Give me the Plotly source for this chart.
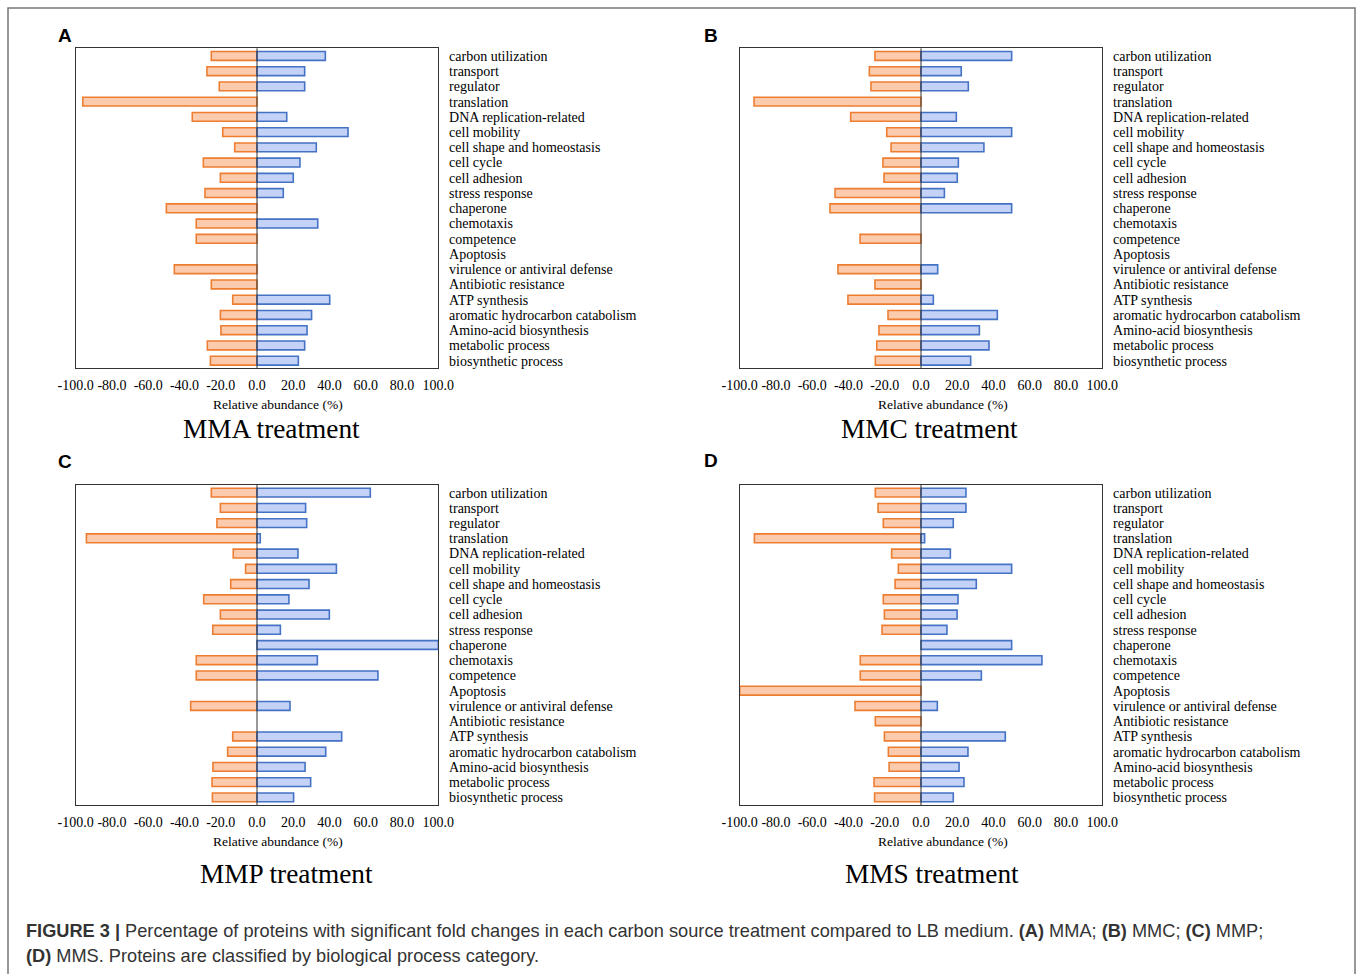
import plotly.graph_objects as go

# ---------------- data ----------------
categories = ["carbon utilization", "transport", "regulator", "translation",
              "DNA replication-related", "cell mobility", "cell shape and homeostasis",
              "cell cycle", "cell adhesion", "stress response", "chaperone", "chemotaxis",
              "competence", "Apoptosis", "virulence or antiviral defense",
              "Antibiotic resistance", "ATP synthesis", "aromatic hydrocarbon catabolism",
              "Amino-acid biosynthesis", "metabolic process", "biosynthetic process"]

mma_down = [-25.2, -27.6, -20.8, -96.1, -35.7, -18.9, -12.3, -29.6, -20.2, -28.7, -50.0,
            -33.5, -33.5, None, -45.6, -25.2, -13.4, -20.2, -19.9, -27.4, -25.7]
mma_up = [37.7, 26.3, 26.3, None, 16.4, 50.2, 32.7, 23.7, 20.0, 14.5, None,
          33.5, None, None, None, None, 40.1, 30.1, 27.6, 26.3, 22.8]

mmc_down = [-25.4, -28.5, -27.6, -92.1, -38.8, -18.9, -16.5, -21.0, -20.4, -47.4, -50.2,
            None, -33.6, None, -45.8, -25.4, -40.3, -18.2, -23.2, -24.4, -25.2]
mmc_up = [50.0, 22.2, 26.1, None, 19.5, 50.0, 34.7, 20.6, 20.0, 12.9, 50.0,
          None, None, None, 9.2, None, 6.8, 42.1, 32.2, 37.5, 27.4]

mmp_down = [-25.2, -20.2, -22.1, -94.1, -13.1, -6.3, -14.5, -29.4, -20.2, -24.4, None,
            -33.5, -33.5, None, -36.6, None, -13.4, -16.2, -24.3, -24.8, -24.6]
mmp_up = [62.5, 26.8, 27.4, 1.8, 22.6, 43.8, 28.7, 17.6, 39.9, 12.9, 100.0,
          33.3, 66.7, None, 18.2, None, 46.7, 37.9, 26.5, 29.6, 20.2]

mms_down = [-25.2, -23.7, -20.8, -91.9, -16.2, -12.5, -14.3, -20.8, -20.2, -21.5, None,
            -33.5, -33.5, -100.0, -36.4, -25.2, -20.2, -18.0, -17.6, -25.9, -25.6]
mms_up = [24.8, 24.8, 17.8, 2.0, 16.2, 50.0, 30.5, 20.4, 19.9, 14.3, 50.0,
          66.7, 33.3, None, 9.0, None, 46.5, 25.9, 21.0, 23.7, 17.8]

tick_vals = [-100, -80, -60, -40, -20, 0, 20, 40, 60, 80, 100]
tick_text = ["-100.0", "-80.0", "-60.0", "-40.0", "-20.0", "0.0",
             "20.0", "40.0", "60.0", "80.0", "100.0"]

panel_letters = ["A", "B", "C", "D"]
panel_titles = ["MMA treatment", "MMC treatment", "MMP treatment", "MMS treatment"]
axis_title = "Relative abundance (%)"

# ---------------- layout helpers ----------------
W, H = 1357, 974
SERIF = "Liberation Serif, Times New Roman, serif"
SANS = "Liberation Sans, Arial, sans-serif"

def fx(x):
    return x / W

def fy(y):
    return 1 - y / H

panels = [
    dict(x0=75.7, x1=438.3, y0=48.3, y1=368.3, down=mma_down, up=mma_up,
         letter=(55.7, 35), title=(271, 429), atitle=(278, 404)),
    dict(x0=739.7, x1=1102.3, y0=48.3, y1=368.3, down=mmc_down, up=mmc_up,
         letter=(701.7, 35), title=(929.5, 429), atitle=(943, 404)),
    dict(x0=75.7, x1=438.3, y0=485, y1=805, down=mmp_down, up=mmp_up,
         letter=(55.7, 461), title=(286.6, 873.5), atitle=(278, 841)),
    dict(x0=739.7, x1=1102.3, y0=485, y1=805, down=mms_down, up=mms_up,
         letter=(701.7, 460.5), title=(931.7, 873.5), atitle=(943, 841)),
]

ORANGE_FILL = "#FCCBAD"
ORANGE_LINE = "#ED7D31"
BLUE_FILL = "#C3D2F6"
BLUE_LINE = "#4472C4"

fig = go.Figure()
layout = dict(
    width=W, height=H,
    margin=dict(l=0, r=0, t=0, b=0, pad=0, autoexpand=False),
    paper_bgcolor="white", plot_bgcolor="white",
    showlegend=False, barmode="relative", bargap=0.42,
    font=dict(family=SERIF, color="black"),
)
annotations = []
shapes = []

for i, p in enumerate(panels):
    n = "" if i == 0 else str(i + 1)
    xa, ya = "x" + n, "y" + n
    fig.add_trace(go.Bar(
        y=categories, x=p["down"], orientation="h", xaxis=xa, yaxis=ya,
        marker=dict(color=ORANGE_FILL, line=dict(color=ORANGE_LINE, width=1.6)),
        hoverinfo="x+y"))
    fig.add_trace(go.Bar(
        y=categories, x=p["up"], orientation="h", xaxis=xa, yaxis=ya,
        marker=dict(color=BLUE_FILL, line=dict(color=BLUE_LINE, width=1.6)),
        hoverinfo="x+y"))

    layout["xaxis" + n] = dict(
        domain=[fx(p["x0"]), fx(p["x1"])], anchor=ya, range=[-100, 100],
        tickmode="array", tickvals=tick_vals, ticktext=tick_text, ticks="",
        showgrid=False, zeroline=False, showline=True, mirror=True,
        linecolor="#333", linewidth=1, automargin=False,
        tickfont=dict(family=SERIF, size=14, color="black"),
        ticklabelstandoff=4, fixedrange=True)
    layout["yaxis" + n] = dict(
        domain=[fy(p["y1"]), fy(p["y0"])], anchor=xa, type="category",
        categoryorder="array", categoryarray=categories, autorange="reversed",
        tickmode="array", tickvals=categories, ticktext=categories,
        side="right", ticks="", showgrid=False, zeroline=False,
        showline=True, mirror=True, linecolor="#333", linewidth=1, automargin=False,
        tickfont=dict(family=SERIF, size=14, color="black"),
        ticklabelstandoff=7, fixedrange=True)

    # zero reference line drawn above the bars
    shapes.append(dict(type="line", xref=xa, yref=ya + " domain", x0=0, x1=0,
                       y0=0, y1=1, line=dict(color="#333", width=1), layer="above"))

    annotations.append(dict(
        text="<b>%s</b>" % panel_letters[i], x=fx(p["letter"][0]), y=fy(p["letter"][1]),
        xref="paper", yref="paper", xanchor="left", yanchor="middle", showarrow=False,
        font=dict(family=SANS, size=19, color="black")))
    annotations.append(dict(
        text=panel_titles[i], x=fx(p["title"][0]), y=fy(p["title"][1]),
        xref="paper", yref="paper", xanchor="center", yanchor="middle", showarrow=False,
        font=dict(family=SERIF, size=27.3, color="black")))
    annotations.append(dict(
        text=axis_title, x=fx(p["atitle"][0]), y=fy(p["atitle"][1]),
        xref="paper", yref="paper", xanchor="center", yanchor="middle", showarrow=False,
        font=dict(family=SERIF, size=13.5, color="black")))

# caption
cap1 = ("<b>FIGURE 3 |</b> Percentage of proteins with significant fold changes in each "
        "carbon source treatment compared to LB medium. <b>(A)</b> MMA; <b>(B)</b> MMC; "
        "<b>(C)</b> MMP;")
cap2 = "<b>(D)</b> MMS. Proteins are classified by biological process category."
for txt, yy in [(cap1, 931), (cap2, 956)]:
    annotations.append(dict(
        text=txt, x=fx(24), y=fy(yy), xref="paper", yref="paper",
        xanchor="left", yanchor="middle", showarrow=False,
        font=dict(family=SANS, size=18.2, color="#333")))

# outer frame
shapes.append(dict(type="rect", xref="paper", yref="paper",
                   x0=fx(8), x1=fx(1355), y0=fy(8), y1=-0.02,
                   line=dict(color="#777", width=1.5), layer="below"))

layout["annotations"] = annotations
layout["shapes"] = shapes
fig.update_layout(**layout)
fig.write_html("out.html",
               config={"displayModeBar": False},
               post_script="document.body.style.margin='0px';"
                           "document.body.style.overflow='hidden';")
